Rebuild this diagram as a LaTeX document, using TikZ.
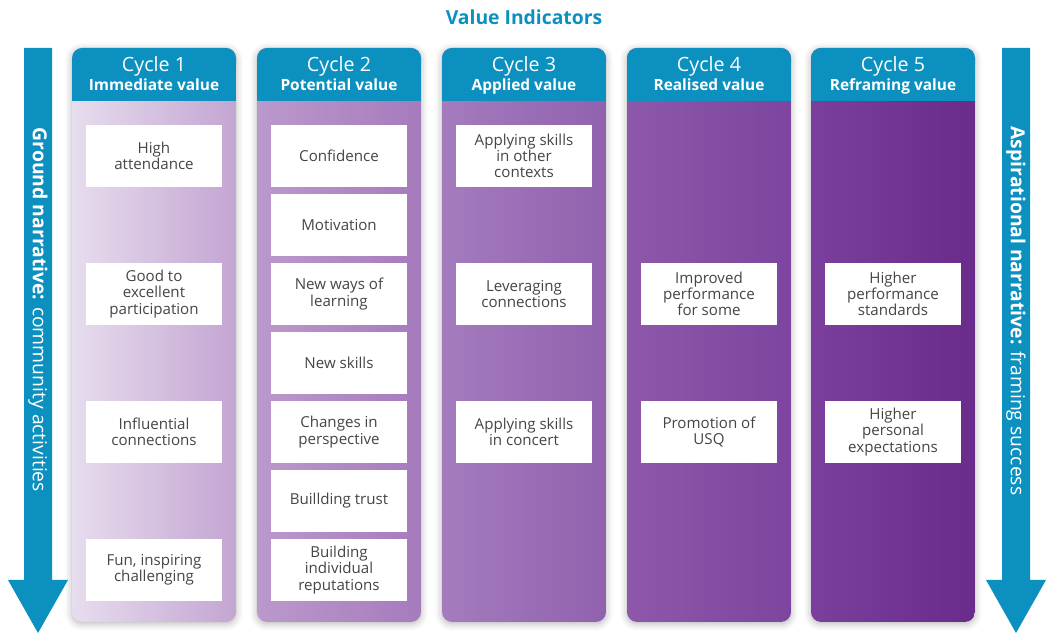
\documentclass[tikz,border=0pt]{standalone}
\usepackage{fontspec}
\setmainfont{Open Sans}
\usepackage{tikz}
\usetikzlibrary{shadows.blur}

\definecolor{vblue}{HTML}{0B90BF}
\definecolor{itemgray}{HTML}{454545}
% column shades, left to right
\definecolor{c1l}{HTML}{E7DDEE}
\definecolor{c1r}{HTML}{C3A5D2}
\definecolor{c2l}{HTML}{BB99CB}
\definecolor{c2r}{HTML}{A67BBD}
\definecolor{c3l}{HTML}{A47CBE}
\definecolor{c3r}{HTML}{9161AE}
\definecolor{c4l}{HTML}{8D58AA}
\definecolor{c4r}{HTML}{7D459F}
\definecolor{c5l}{HTML}{7A3F9C}
\definecolor{c5r}{HTML}{6A2B8B}

\tikzset{
  cyclecol/.style={
    minimum width=3.28cm,
    minimum height=11.48cm,
    rounded corners=0.2cm,
    inner sep=0pt,
    blur shadow={shadow xshift=0pt, shadow yshift=-1pt,
                 shadow blur radius=4pt, shadow opacity=30}
  },
  cyclehead/.style={
    inner sep=0pt,
    text=white,
    align=center,
    font=\fontsize{11.2}{12}\selectfont
  },
  item/.style={
    fill=white,
    minimum width=2.74cm,
    minimum height=1.24cm,
    inner sep=1pt,
    align=center,
    text=itemgray,
    font=\fontsize{8.6}{9.2}\selectfont
  },
  narrative/.style={
    rotate=-90,
    text=white,
    font=\fontsize{11}{12}\selectfont
  }
}

\begin{document}
\begin{tikzpicture}[x=0.02cm, y=-0.02cm]
    \useasboundingbox (0,0) rectangle (1049,634);

    \node[font=\bfseries\fontsize{11}{12}\selectfont, text=vblue] (title) at (524,17) {Value Indicators};

    % the five cycles
    \foreach \i/\x/\what in {1/154/{Immediate value},2/339/{Potential value},3/524/{Applied value},4/709/{Realised value},5/893/{Reframing value}} {
      \node[cyclecol, left color=c\i l, right color=c\i r] (col\i) at (\x,335) {};
      % header band, round on top only
      \fill[vblue, rounded corners=0.2cm] (\x-82,48) rectangle (\x+82,75);
      \fill[vblue] (\x-82,62) rectangle (\x+82,101);
      \node[cyclehead] (head\i) at (\x,75.5) {Cycle \i\\[-1.5pt]{\bfseries\fontsize{8.8}{10}\selectfont \what\vphantom{gp}}};
    }

    % value indicators
    \foreach \n/\x/\y/\txt in {
      a1/154/155/{High\\attendance},
      a2/154/293/{Good to\\excellent\\participation},
      a3/154/431/{Influential\\connections},
      a4/154/569/{Fun, inspiring\\challenging},
      b1/339/155/{Confidence},
      b2/339/224/{Motivation},
      b3/339/293/{New ways of\\learning},
      b4/339/362/{New skills},
      b5/339/431/{Changes in\\perspective},
      b6/339/500/{Buillding trust},
      b7/339/569/{Building\\individual\\reputations},
      c1/524/155/{Applying skills\\in other\\contexts},
      c2/524/293/{Leveraging\\connections},
      c3/524/431/{Applying skills\\in concert},
      d1/709/293/{Improved\\performance\\for some},
      d2/709/431/{Promotion of\\USQ},
      e1/893/293/{Higher\\performance\\standards},
      e2/893/431/{Higher\\personal\\expectations}} {
      \node[item] (\n) at (\x,\y+1) {\txt};
    }

    % narrative arrows
    \foreach \a in {38,1016} {
      \fill[vblue] (\a-14,48) -- (\a+14,48) -- (\a+14,580) -- (\a+30,580)
        -- (\a,633) -- (\a-30,580) -- (\a-14,580) -- cycle;
    }
    \node[narrative] (ground) at (38,310) {\textbf{Ground narrative:} community activities};
    \node[narrative] (aspire) at (1016,311) {\textbf{Aspirational narrative:} framing success};
\end{tikzpicture}
\end{document}
